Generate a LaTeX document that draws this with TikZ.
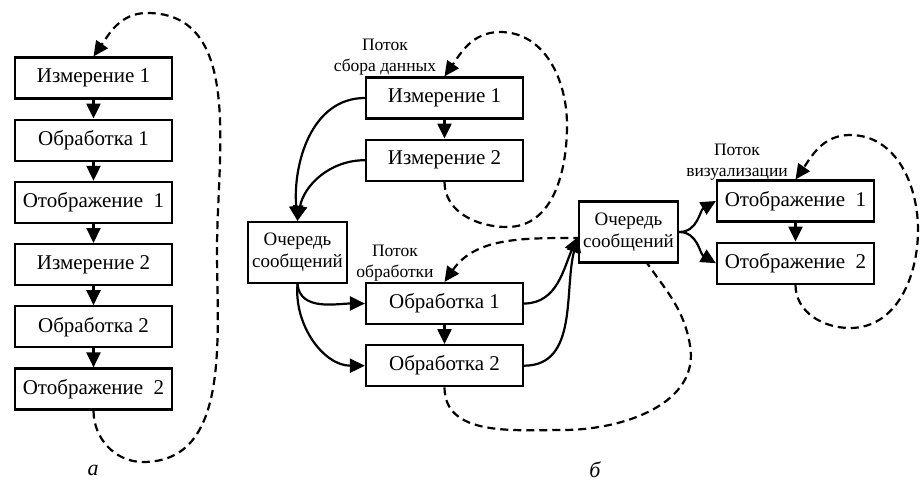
\documentclass[tikz,border=0pt]{standalone}
\usepackage{fontspec}
\setmainfont{Liberation Serif}
\usetikzlibrary{positioning,arrows.meta,backgrounds}

\begin{document}
\begin{tikzpicture}[x=1pt, y=1pt, line width=2.2pt, node distance=19pt,
 box/.style={draw, fill=white, minimum width=157pt, minimum height=41pt, inner sep=0pt, font=\fontsize{21}{24}\selectfont},
 queue/.style={draw, fill=white, minimum width=99pt, minimum height=61pt, inner sep=0pt, align=center, font=\fontsize{19}{22}\selectfont},
 lbl/.style={align=center, inner sep=0pt, font=\fontsize{17.5}{21}\selectfont},
 caption/.style={font=\fontsize{22}{24}\selectfont\itshape},
 tip/.style={-{Triangle[length=15pt,width=14pt]}},
 thread/.style={tip, line width=2.2pt, dash pattern=on 8pt off 5pt},]
 \useasboundingbox (0,0) rectangle (922,-493);

 % a: one thread
 \node[box] (izm1) at (93.5,-78) {Измерение 1};
 \node[box, below=of izm1] (obr1) {Обработка 1};
 \node[box, below=of obr1] (otob1) {Отображение\ \ 1};
 \node[box, below=of otob1] (izm2) {Измерение 2};
 \node[box, below=of izm2] (obr2) {Обработка 2};
 \node[box, below=of obr2] (otob2) {Отображение\ \ 2};
 \foreach \a/\b in {izm1/obr1, obr1/otob1, otob1/izm2, izm2/obr2, obr2/otob2}
  \draw[tip] (\a) -- (\b);
 \node[caption] (capa) at (93,-470) {а};

 % b: three threads
 \node[box] (bizm1) at (444.5,-98) {Измерение 1};
 \node[box, below=of bizm1] (bizm2) {Измерение 2};
 \node[queue] (q1) at (297.5,-252.5) {Очередь\\сообщений};
 \node[box] (bobr1) at (444.5,-303.5) {Обработка 1};
 \node[box, below=of bobr1] (bobr2) {Обработка 2};
 \node[queue] (q2) at (628.5,-232) {Очередь\\сообщений};
 \node[box] (botob1) at (795.5,-201) {Отображение\ \ 1};
 \node[box, below=of botob1] (botob2) {Отображение\ \ 2};

 \node[lbl] (lsbor) at (385,-57) {Поток\\сбора данных};
 \node[lbl] (lobr) at (395,-263) {Поток\\обработки};
 \node[lbl] (lvis) at (737,-162) {Поток\\визуализации};
 \node[caption] (capb) at (595,-470) {б};

 \draw[tip] (bizm1) -- (bizm2);
 \draw[tip] (bobr1) -- (bobr2);
 \draw[tip] (botob1) -- (botob2);
 \draw[tip] (bizm1.west) to[out=180,in=95] (q1.north);
 \draw[tip] (bizm2.west) to[out=180,in=80] (q1.north);
 \draw[tip] (q1.south) to[out=-85,in=180] (bobr1.west);
 \draw[tip] (q1.south) to[out=-95,in=180] (bobr2.west);
 \draw[tip] (bobr1.east) to[out=0,in=-115] ([yshift=-5pt]q2.west);
 \draw[tip] (bobr2.east) to[out=0,in=-105] ([yshift=-5pt]q2.west);
 \draw[tip] (q2.east) to[out=0,in=-150] (botob1.west);
 \draw[tip] (q2.east) to[out=0,in=150] (botob2.west);

 % loops of the threads
 \begin{scope}[on background layer]
 \draw[thread] (otob2.south) to[out=-90,in=180] (143,-462) to[out=0,in=-90] (217,-250)
  to[out=90,in=0] (147,-13) to[out=180,in=55] (izm1.north);
 \draw[thread] (bizm2.south) to[out=-90,in=180] (507,-227) to[out=0,in=-90] (567,-125)
  to[out=90,in=0] (500,-32) to[out=180,in=55] (bizm1.north);
 \draw[thread] (bobr2.south) to[out=-90,in=180] (563,-430) to[out=0,in=-80] (690,-345)
  to[out=100,in=-55] (647,-263) to[out=125,in=0] (575,-238) to[out=180,in=55] (bobr1.north);
 \draw[thread] (botob2.south) to[out=-90,in=180] (850,-328) to[out=0,in=-90] (918,-230)
  to[out=90,in=0] (850,-135) to[out=180,in=55] (botob1.north);
 \end{scope}
\end{tikzpicture}
\end{document}
